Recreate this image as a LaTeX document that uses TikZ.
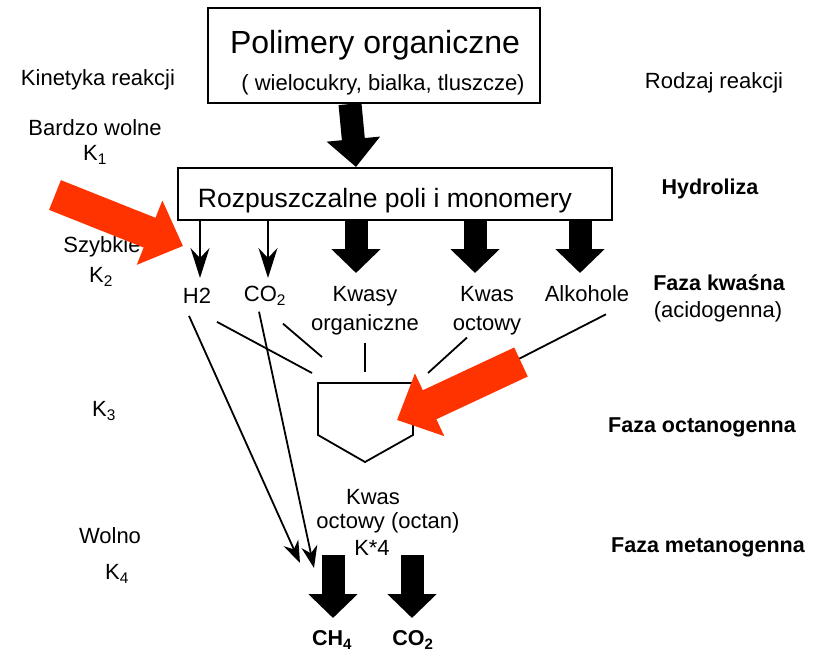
\documentclass[tikz,border=0pt]{standalone}
\usepackage{fontspec}
\setmainfont{Liberation Sans}
\usetikzlibrary{arrows.meta}

\definecolor{redarrow}{HTML}{FF3300}
\newcommand{\labfont}{\fontsize{22}{29}\selectfont}
\newcommand{\phasefont}{\fontsize{21.5}{29}\selectfont\bfseries}
\newcommand{\bigtitlefont}{\fontsize{32}{38}\selectfont}
\newcommand{\rozpfont}{\fontsize{26.5}{32}\selectfont}

\begin{document}
\begin{tikzpicture}[
            x=1pt, y=-1pt,
            inner sep=2pt,
            box/.style={
                draw,
                line width=2pt,
                inner sep=0pt
            },
            txt/.style={font=\labfont, align=center},
            phase/.style={font=\phasefont},
            fat/.style={
                line width=23pt,
                -{Triangle[length=24pt, width=48pt]}
            },
            thinarr/.style={
                line width=1.8pt,
                -{Stealth[length=22pt, width=16pt, inset=7pt]}
            },
            shortarr/.style={
                line width=1.8pt,
                -{Stealth[length=30pt, width=19pt, inset=10pt]}
            },
            link/.style={line width=1.8pt},
            redarr/.style={
                redarrow,
                line width=32pt,
                -{Triangle[length=36pt, width=67pt]}
            }
        ]
            \useasboundingbox (0,0) rectangle (828,653);

            % boxes
            \node[box, minimum width=332pt, minimum height=95pt] (polimery) at (374,55.5) {};
            \node[font=\bigtitlefont] (polname) at (375,45) {Polimery organiczne};
            \node[txt] (polsub) at (383,85) {( wielocukry, bialka, tluszcze)};

            \node[box, minimum width=434pt, minimum height=52pt] (rozp) at (395,194) {};
            \node[font=\rozpfont] (rozpname) at (385,201) {Rozpuszczalne poli i monomery};

            % left column
            \node[txt] (kinetyka) at (98,80) {Kinetyka reakcji};
            \node[txt] (bardzo) at (95,128) {Bardzo wolne};
            \node[txt] (k1) at (95,155) {K\textsubscript{1}};
            \node[txt] (szybkie) at (102,247) {Szybkie};
            \node[txt] (k2) at (101,277) {K\textsubscript{2}};
            \node[txt] (k3) at (104,411) {K\textsubscript{3}};
            \node[txt] (wolno) at (110,536) {Wolno};
            \node[txt] (k4) at (117,574) {K\textsubscript{4}};

            % right column
            \node[txt] (rodzaj) at (714,83) {Rodzaj reakcji};
            \node[phase] (hydroliza) at (710,189) {Hydroliza};
            \node[phase] (kwasna) at (719,283) {Faza kwaśna};
            \node[txt] (acido) at (718,312) {(acidogenna)};
            \node[phase] (octano) at (702,427) {Faza octanogenna};
            \node[phase] (metano) at (708,547) {Faza metanogenna};

            % products of hydrolysis
            \node[txt] (h2) at (197,296) {H2};
            \node[txt] (co2) at (265,296) {CO\textsubscript{2}};
            \node[txt] (kwasy) at (365,311) {Kwasy\\organiczne};
            \node[txt] (octowy) at (487,311) {Kwas\\octowy};
            \node[txt] (alkohole) at (587,294) {Alkohole};

            \node[txt] (kwas) at (373,497) {Kwas};
            \node[txt] (octan) at (388,523) {octowy (octan)};
            \node[txt] (kstar) at (372,548) {K*4};

            \node[phase] (ch4) at (332,640) {CH\textsubscript{4}};
            \node[phase] (co2b) at (413,640) {CO\textsubscript{2}};

            % tips and ends
            \coordinate (tiph2) at (200,278);
            \coordinate (tipco2) at (268,278);
            \coordinate (tipkw) at (356,273);
            \coordinate (tipoc) at (475,273);
            \coordinate (tipal) at (580,273);
            \coordinate (ch4top) at (333,555);
            \coordinate (co2top) at (412,555);
            \coordinate (h2end) at (300,563);
            \coordinate (co2end) at (314,568);

            % octan box
            \coordinate (pa) at (318,383);
            \coordinate (pb) at (413,383);
            \coordinate (pc) at (413,435);
            \coordinate (pd) at (365,462);
            \coordinate (pe) at (318,435);
            \draw[link] (pa) -- (pb) -- (pc) -- (pd) -- (pe) -- cycle;

            \coordinate (inh2) at (312,373);
            \coordinate (inco2) at (322,357);
            \coordinate (inkw) at (365,372);
            \coordinate (inoc) at (428,373);
            \coordinate (inal) at (505,366);

            \draw[fat, -{Triangle[length=28pt, width=52pt]}]
                ([xshift=-24pt]polimery.south) -- (rozp.north -| tipkw);

            \draw[shortarr] (rozp.south -| tiph2) -- (tiph2);
            \draw[shortarr] (rozp.south -| tipco2) -- (tipco2);
            \draw[fat] (rozp.south -| tipkw) -- (tipkw);
            \draw[fat] (rozp.south -| tipoc) -- (tipoc);
            \draw[fat] (rozp.south -| tipal) -- (tipal);

            \draw[link] ([shift={(20,16)}]h2.south) -- (inh2);
            \draw[link] ([shift={(18,16)}]co2.south) -- (inco2);
            \draw[link] ([shift={(0,5)}]kwasy.south) -- (inkw);
            \draw[link] ([shift={(-20,0)}]octowy.south) -- (inoc);
            \draw[link] ([shift={(19,10)}]alkohole.south) -- (inal);

            \draw[thinarr] ([shift={(-8,10)}]h2.south) -- (h2end);
            \draw[thinarr] ([shift={(-6,4)}]co2.south) -- (co2end);

            \draw[fat] (ch4top) -- (ch4top |- 0,618);
            \draw[fat] (co2top) -- (co2top |- 0,618);

            % red arrows
            \coordinate (red1) at (55,195);
            \coordinate (hit1) at (183,246);
            \coordinate (red2) at (521,362);
            \coordinate (hit2) at (397,420);
            \draw[redarr] (red1) -- (hit1);
            \draw[redarr] (red2) -- (hit2);

        \end{tikzpicture}
\end{document}
